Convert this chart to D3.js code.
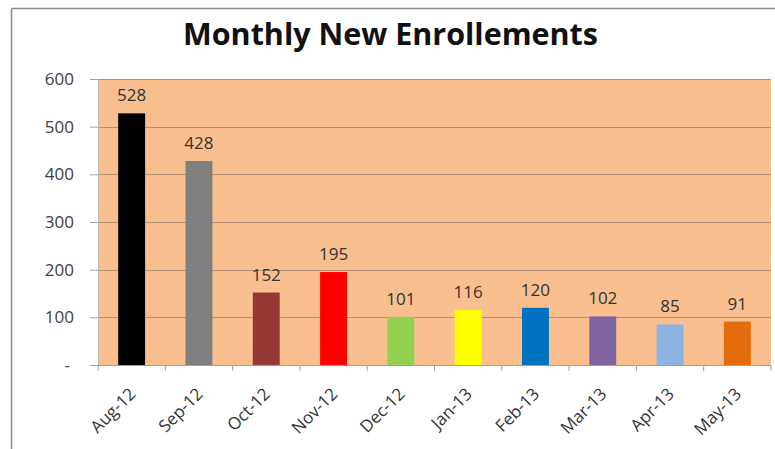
<!DOCTYPE html>
<html>
<head>
<meta charset="utf-8">
<script src="https://cdn.jsdelivr.net/npm/d3@7"></script>
<style>
  html, body { margin: 0; padding: 0; background: #ffffff; }
  svg { display: block; }
</style>
</head>
<body>
<svg id="chart" width="775" height="449"></svg>
<script>
const months = ["Aug-12","Sep-12","Oct-12","Nov-12","Dec-12","Jan-13","Feb-13","Mar-13","Apr-13","May-13"];
const enrollments = [528, 428, 152, 195, 101, 116, 120, 102, 85, 91];
const barColors = ["#000000","#7f7f7f","#953735","#ff0000","#92d050","#ffff00","#0070c0","#8064a2","#8db3e2","#e46c0a"];
const yTickValues = [0, 100, 200, 300, 400, 500, 600];
const yTickLabels = ["-", "100", "200", "300", "400", "500", "600"];
const titleText = "Monthly New Enrollements";

const W = 775, H = 449;
const plot = { left: 98, right: 771, top: 79, bottom: 365 };
const font = "'Open Sans', 'DejaVu Sans', sans-serif";

const svg = d3.select("#chart");

// outer chart border (top + left visible)
svg.append("line").attr("x1", 11.5).attr("x2", W).attr("y1", 8.5).attr("y2", 8.5)
  .attr("stroke", "#8a8a8a").attr("stroke-width", 1.5);
svg.append("line").attr("x1", 11.5).attr("x2", 11.5).attr("y1", 8.5).attr("y2", H)
  .attr("stroke", "#8a8a8a").attr("stroke-width", 1.5);

// title
svg.append("text")
  .attr("x", 390.5).attr("y", 45)
  .attr("text-anchor", "middle")
  .attr("font-family", font).attr("font-weight", "bold").attr("font-size", 31)
  .attr("fill", "#111111")
  .attr("textLength", 415).attr("lengthAdjust", "spacingAndGlyphs")
  .text(titleText);

const x = d3.scaleBand().domain(months).range([plot.left, plot.right])
  .paddingInner(0.6).paddingOuter(0.3);
const y = d3.scaleLinear().domain([0, 600]).range([plot.bottom, plot.top]);

// plot background
svg.append("rect")
  .attr("x", plot.left).attr("y", plot.top)
  .attr("width", plot.right - plot.left).attr("height", plot.bottom - plot.top)
  .attr("fill", "#fabf8f");

// gridlines
svg.append("g").selectAll("line").data(yTickValues.filter(v => v > 0)).join("line")
  .attr("x1", plot.left).attr("x2", plot.right)
  .attr("y1", d => Math.round(y(d)) + 0.5).attr("y2", d => Math.round(y(d)) + 0.5)
  .attr("stroke", "#b39070").attr("stroke-width", 1);

// y axis
const yAxis = d3.axisLeft(y).tickValues(yTickValues)
  .tickFormat((d, i) => yTickLabels[i]).tickSize(8).tickPadding(16);
const gy = svg.append("g").attr("transform", `translate(${plot.left},0)`).call(yAxis);
gy.select(".domain").attr("stroke", "#bdbdbd");
gy.selectAll(".tick line").attr("stroke", "#a0a0a0");
gy.selectAll(".tick text").attr("font-family", font).attr("font-size", 17).attr("fill", "#404040")
  .attr("dx", (d) => d === 0 ? -4 : 0);

// bars
svg.append("g").selectAll("rect").data(months).join("rect")
  .attr("x", d => x(d))
  .attr("y", (d, i) => y(enrollments[i]))
  .attr("width", x.bandwidth())
  .attr("height", (d, i) => y(0) - y(enrollments[i]))
  .attr("fill", (d, i) => barColors[i]);

// data labels
svg.append("g").selectAll("text").data(months).join("text")
  .attr("x", d => x(d) + x.bandwidth() / 2)
  .attr("y", (d, i) => y(enrollments[i]) - 12)
  .attr("text-anchor", "middle")
  .attr("font-family", font).attr("font-size", 17).attr("fill", "#333333")
  .text((d, i) => enrollments[i]);

// x axis line and category boundary ticks
svg.append("line").attr("x1", plot.left).attr("x2", plot.right)
  .attr("y1", plot.bottom + 0.5).attr("y2", plot.bottom + 0.5)
  .attr("stroke", "#a0a0a0");
const step = x.step();
const boundaries = d3.range(months.length + 1).map(i => plot.left + i * step);
svg.append("g").selectAll("line").data(boundaries).join("line")
  .attr("x1", d => d).attr("x2", d => d)
  .attr("y1", plot.bottom).attr("y2", plot.bottom + 6)
  .attr("stroke", "#a0a0a0");

// x labels rotated
svg.append("g").selectAll("text").data(months).join("text")
  .attr("transform", d => `translate(${x(d) + x.bandwidth() / 2 + 5},${plot.bottom + 30}) rotate(-45)`)
  .attr("text-anchor", "end")
  .attr("font-family", font).attr("font-size", 17).attr("fill", "#333333")
  .text(d => d);
</script>
</body>
</html>
